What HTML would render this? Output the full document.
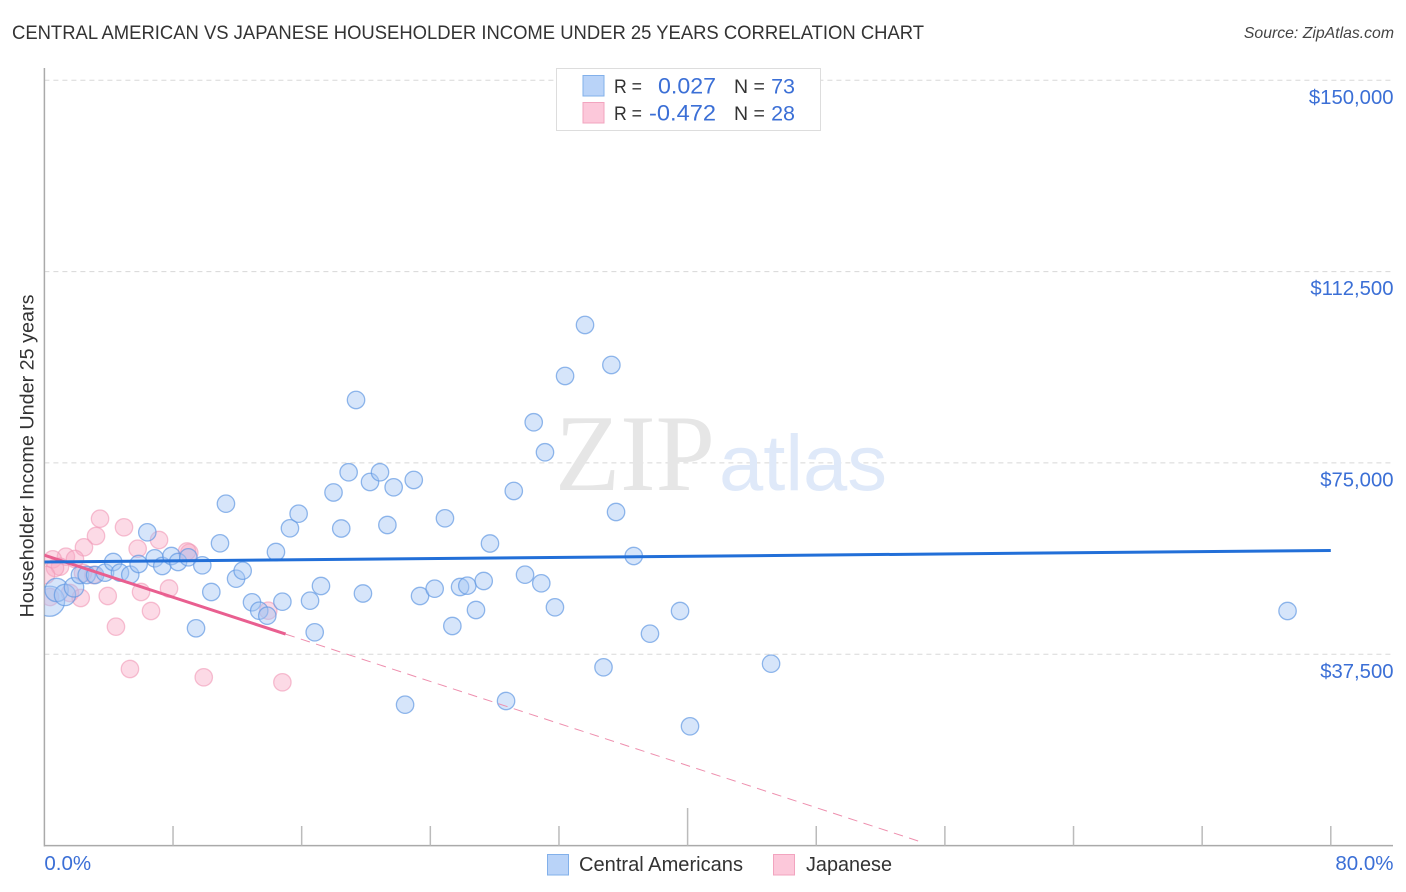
<!DOCTYPE html>
<html lang="en">
<head>
<meta charset="utf-8">
<title>Central American vs Japanese Householder Income Under 25 Years Correlation Chart</title>
<style>
html,body{margin:0;padding:0;background:#fff;}
body{width:1406px;height:892px;overflow:hidden;}
svg{display:block;font-family:"Liberation Sans",sans-serif;}
</style>
</head>
<body>
<svg id="chart" width="1406" height="892" viewBox="0 0 1406 892" xmlns="http://www.w3.org/2000/svg">
  <defs>
    <clipPath id="plot-clip"><rect x="44.4" y="60" width="1350" height="786"></rect></clipPath>
  </defs>
  <rect x="0" y="0" width="1406" height="892" fill="#ffffff"></rect>
  <text x="12" y="39" font-size="19" fill="#333333" textLength="912" lengthAdjust="spacingAndGlyphs">CENTRAL AMERICAN VS JAPANESE HOUSEHOLDER INCOME UNDER 25 YEARS CORRELATION CHART</text>
  <text x="1394" y="38" font-size="15.8" font-style="italic" fill="#444444" text-anchor="end">Source: ZipAtlas.com</text>
  <g id="grid"></g>
  <g>
    <text x="555" y="490" font-family="'Liberation Serif',serif" font-size="109" fill="#e6e6e6" textLength="160" lengthAdjust="spacingAndGlyphs">ZIP</text>
    <text x="719" y="490" font-size="79" fill="#dfe9f9" textLength="168" lengthAdjust="spacingAndGlyphs">atlas</text>
  </g>
  <g id="axes"></g>
  <g id="points" clip-path="url(#plot-clip)"></g>
  <g id="trends" clip-path="url(#plot-clip)"></g>
  <g id="tick-labels"></g>
  <text transform="translate(33.5,456) rotate(-90)" font-size="19" fill="#333333" text-anchor="middle" textLength="323" lengthAdjust="spacingAndGlyphs">Householder Income Under 25 years</text>

  <g>
    <rect x="556.5" y="68.5" width="264" height="62" fill="#ffffff" stroke="#dddddd" stroke-width="1"></rect>
    <rect x="583" y="75.5" width="21" height="20.5" fill="#b9d3f8" stroke="#82b0ea" stroke-width="1"></rect>
    <rect x="583" y="102.5" width="21" height="20.5" fill="#fcc8da" stroke="#f2a4bf" stroke-width="1"></rect>
    <text x="614" y="93" font-size="19.5" fill="#333333" textLength="28" lengthAdjust="spacingAndGlyphs">R =</text>
    <text x="658" y="93.5" font-size="22" fill="#3b6fd6" textLength="58" lengthAdjust="spacingAndGlyphs">0.027</text>
    <text x="734" y="93" font-size="19.5" fill="#333333">N =</text>
    <text x="795" y="93.5" font-size="21.5" fill="#3b6fd6" text-anchor="end">73</text>
    <text x="614" y="120" font-size="19.5" fill="#333333" textLength="28" lengthAdjust="spacingAndGlyphs">R =</text>
    <text x="649" y="120.5" font-size="22" fill="#3b6fd6" textLength="67" lengthAdjust="spacingAndGlyphs">-0.472</text>
    <text x="734" y="120" font-size="19.5" fill="#333333">N =</text>
    <text x="795" y="120.5" font-size="21.5" fill="#3b6fd6" text-anchor="end">28</text>
  </g>

  <g>
    <rect x="547.5" y="854.5" width="21" height="20.5" fill="#b9d3f8" stroke="#82b0ea" stroke-width="1"></rect>
    <text x="579" y="871" font-size="20" fill="#333333" textLength="164" lengthAdjust="spacingAndGlyphs">Central Americans</text>
    <rect x="773.5" y="854.5" width="21" height="20.5" fill="#fcc8da" stroke="#f2a4bf" stroke-width="1"></rect>
    <text x="806" y="871" font-size="20" fill="#333333" textLength="86" lengthAdjust="spacingAndGlyphs">Japanese</text>
  </g>
</svg>
<script>
const yTickValues = [37500, 75000, 112500, 150000];
const yTickLabels = ["$37,500", "$75,000", "$112,500", "$150,000"];
const xTickValues = [8, 16, 24, 32, 40, 48, 56, 64, 72, 80];
const xMajorTicks = [40];
const xEndValues = [0, 80];
const xEndLabels = ["0.0%", "80.0%"];

const centralAmericanPct = [0.32,0.76,1.28,1.84,2.21,2.63,3.15,3.77,4.28,4.70,5.34,5.86,6.40,6.86,7.33,7.90,8.31,8.95,9.82,10.92,11.29,10.38,9.43,11.92,12.33,12.91,13.36,13.86,14.40,14.80,15.27,15.81,16.52,16.81,17.20,17.98,18.46,18.92,19.38,19.81,20.25,20.87,21.33,21.72,22.97,22.43,23.36,24.27,24.91,25.37,25.85,26.30,26.84,27.32,27.71,28.71,29.19,29.89,30.43,30.90,31.13,31.75,32.38,33.62,34.77,35.26,35.55,36.65,37.66,39.53,40.15,45.19,77.31];
const centralAmericanIncome = [47900,50098,49118,50627,53038,53038,53038,53488,55586,53488,53096,55194,61407,56311,54802,56762,55586,56507,54939,59251,67012,49706,42591,52312,53880,47687,46040,45060,57546,47804,62191,65052,48000,41807,50882,69208,62152,73167,87338,49412,71266,73167,62838,70227,71658,27616,48922,50352,64151,43042,50686,50940,46178,51862,59212,28342,69502,53096,82967,51411,77087,46707,92042,102038,34947,94198,65386,56762,41532,45982,23383,35652,45982];
const centralAmericanWeight = [3,1.8,1.5,1.25,1,1,1,1,1,1,1,1,1,1,1,1,1,1,1,1,1,1,1,1,1,1,1,1,1,1,1,1,1,1,1,1,1,1,1,1,1,1,1,1,1,1,1,1,1,1,1,1,1,1,1,1,1,1,1,1,1,1,1,1,1,1,1,1,1,1,1,1,1];

const japanesePct = [3.46,4.95,3.21,2.46,5.80,7.13,1.34,1.90,0.52,0.97,0.66,3.04,2.40,1.59,2.26,3.94,6.01,7.75,6.63,4.45,0.35,5.32,9.91,14.80,9.01,8.87,13.92,0.10];
const japaneseIncome = [64072,62387,60682,58467,58192,59898,56624,56174,56115,54664,54410,53038,53430,49510,48530,48922,49706,50392,45982,42904,48726,34614,32987,32007,57408,57644,46040,53038];

const centralAmericanTrendPct = [0, 80];
const centralAmericanTrendIncome = [55586, 57840];
const japaneseTrendPct = [0, 15];
const japaneseTrendIncome = [56918, 41453];
const japaneseTrendDashedPct = [15, 54.5];
const japaneseTrendDashedIncome = [41453, 740];

const SVG_NS = "http://www.w3.org/2000/svg";
function xScale(pct) { return 44.4 + pct * 16.08; }
function yScale(income) { return 845.6 - income * 0.0051022; }
function make(tag, attrs, parent) {
  const el = document.createElementNS(SVG_NS, tag);
  Object.keys(attrs).forEach(function (k) { el.setAttribute(k, attrs[k]); });
  parent.appendChild(el);
  return el;
}

const gridGroup = document.getElementById("grid");
const axesGroup = document.getElementById("axes");
const labelGroup = document.getElementById("tick-labels");
const pointsGroup = document.getElementById("points");
const trendsGroup = document.getElementById("trends");

yTickValues.forEach(function (value, i) {
  const line = make("line", {x1: 44.4, x2: 1393, y1: yScale(value), y2: yScale(value), stroke: "#d8d8d8", "stroke-width": 1, "stroke-dasharray": "5 4"}, gridGroup);
  
  
  const label = make("text", {x: 1393.5, y: yScale(value) + 23.5, "font-size": 20.3, fill: "#3b6fd6", "text-anchor": "end"}, labelGroup);
  
  
  label.textContent = yTickLabels[i];
});

const yAxis = make("line", {x1: 44.4, x2: 44.4, y1: 68, y2: 846.5, stroke: "#aaaaaa", "stroke-width": 1.5}, axesGroup);


const xAxis = make("line", {x1: 44, x2: 1393, y1: 845.6, y2: 845.6, stroke: "#aaaaaa", "stroke-width": 1.5}, axesGroup);



xTickValues.forEach(function (value) {
  const top = xMajorTicks.indexOf(value) >= 0 ? 808 : 826;
  const tick = make("line", {x1: xScale(value), x2: xScale(value), y1: top, y2: 845.6, stroke: "#bbbbbb", "stroke-width": 1.5}, axesGroup);
  
  
});

xEndValues.forEach(function (value, i) {
  const label = make("text", {x: i === 0 ? xScale(value) : 1393.5, y: 870, "font-size": 20.5, fill: "#3b6fd6", "text-anchor": i === 0 ? "start" : "end"}, labelGroup);
  
  
  label.textContent = xEndLabels[i];
});

japanesePct.forEach(function (pct, i) {
  const dot = make("circle", {cx: xScale(pct), cy: yScale(japaneseIncome[i]), r: 8.7, fill: "#f7a8c4", "fill-opacity": 0.42, stroke: "#f098b6", "stroke-opacity": 0.6, "stroke-width": 1.3}, pointsGroup);
  
  
});
centralAmericanPct.forEach(function (pct, i) {
  const dot = make("circle", {cx: xScale(pct), cy: yScale(centralAmericanIncome[i]), r: 8.7 * Math.sqrt(centralAmericanWeight[i]), fill: "#a5c6f3", "fill-opacity": 0.45, stroke: "#5f97e2", "stroke-opacity": 0.68, "stroke-width": 1.3}, pointsGroup);
  
  
});

const jpDash = make("line", {x1: xScale(japaneseTrendDashedPct[0]), y1: yScale(japaneseTrendDashedIncome[0]), x2: xScale(japaneseTrendDashedPct[1]), y2: yScale(japaneseTrendDashedIncome[1]), stroke: "#ee8fae", "stroke-width": 1, "stroke-dasharray": "9.5 6.5"}, trendsGroup);


const jpLine = make("line", {x1: xScale(japaneseTrendPct[0]), y1: yScale(japaneseTrendIncome[0]), x2: xScale(japaneseTrendPct[1]), y2: yScale(japaneseTrendIncome[1]), stroke: "#e95f90", "stroke-width": 3}, trendsGroup);


const caLine = make("line", {x1: xScale(centralAmericanTrendPct[0]), y1: yScale(centralAmericanTrendIncome[0]), x2: xScale(centralAmericanTrendPct[1]), y2: yScale(centralAmericanTrendIncome[1]), stroke: "#226fd8", "stroke-width": 3}, trendsGroup);


</script>
</body>
</html>
